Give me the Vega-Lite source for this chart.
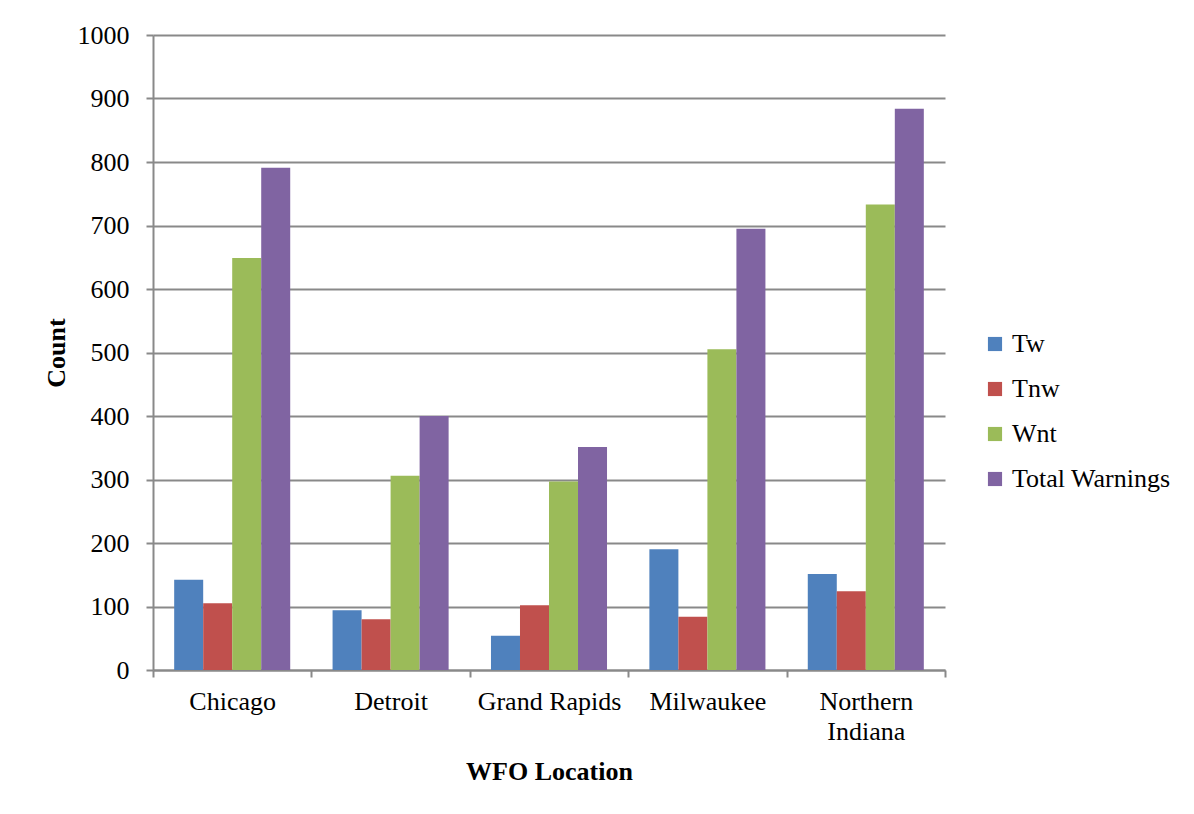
{
  "$schema": "https://vega.github.io/schema/vega-lite/v6.json",
  "width": 792,
  "height": 635,
  "autosize": {"type": "none"},
  "padding": {"left": 153, "top": 35, "right": 249, "bottom": 144},
  "background": "white",
  "data": {
    "values": [
      {"office": "Chicago", "series": "Tw", "count": 142},
      {"office": "Chicago", "series": "Tnw", "count": 105},
      {"office": "Chicago", "series": "Wnt", "count": 649},
      {"office": "Chicago", "series": "Total Warnings", "count": 791},
      {"office": "Detroit", "series": "Tw", "count": 94},
      {"office": "Detroit", "series": "Tnw", "count": 80},
      {"office": "Detroit", "series": "Wnt", "count": 306},
      {"office": "Detroit", "series": "Total Warnings", "count": 400},
      {"office": "Grand Rapids", "series": "Tw", "count": 54},
      {"office": "Grand Rapids", "series": "Tnw", "count": 102},
      {"office": "Grand Rapids", "series": "Wnt", "count": 297},
      {"office": "Grand Rapids", "series": "Total Warnings", "count": 351},
      {"office": "Milwaukee", "series": "Tw", "count": 190},
      {"office": "Milwaukee", "series": "Tnw", "count": 84},
      {"office": "Milwaukee", "series": "Wnt", "count": 505},
      {"office": "Milwaukee", "series": "Total Warnings", "count": 695},
      {"office": "Northern Indiana", "series": "Tw", "count": 151},
      {"office": "Northern Indiana", "series": "Tnw", "count": 124},
      {"office": "Northern Indiana", "series": "Wnt", "count": 733},
      {"office": "Northern Indiana", "series": "Total Warnings", "count": 884}
    ]
  },
  "mark": {"type": "bar"},
  "encoding": {
    "x": {
      "field": "office",
      "type": "nominal",
      "sort": null,
      "scale": {"paddingInner": 0, "paddingOuter": 0},
      "axis": {
        "title": "WFO Location",
        "labelAngle": 0,
        "tickBand": "extent",
        "labelExpr": "datum.value == 'Northern Indiana' ? ['Northern', 'Indiana'] : datum.value",
        "labelPadding": 11,
        "labelLineHeight": 30,
        "titlePadding": 14
      }
    },
    "xOffset": {
      "field": "series",
      "type": "nominal",
      "sort": ["Tw", "Tnw", "Wnt", "Total Warnings"],
      "scale": {"paddingInner": 0, "paddingOuter": 0.73}
    },
    "y": {
      "field": "count",
      "type": "quantitative",
      "scale": {"domain": [0, 1000], "nice": false},
      "axis": {
        "title": "Count",
        "format": "d",
        "values": [0, 100, 200, 300, 400, 500, 600, 700, 800, 900, 1000],
        "labelPadding": 17,
        "titlePadding": 8
      }
    },
    "color": {
      "field": "series",
      "type": "nominal",
      "sort": ["Tw", "Tnw", "Wnt", "Total Warnings"],
      "scale": {
        "domain": ["Tw", "Tnw", "Wnt", "Total Warnings"],
        "range": ["#4f81bd", "#c0504d", "#9bbb59", "#8064a2"]
      },
      "legend": {
        "title": null,
        "orient": "none",
        "legendX": 829,
        "legendY": 296,
        "symbolType": "square",
        "symbolSize": 200,
        "symbolStrokeWidth": 0,
        "rowPadding": 19,
        "labelOffset": 4
      }
    }
  },
  "config": {
    "font": "Liberation Serif",
    "view": {"stroke": null},
    "axis": {
      "labelFont": "Liberation Serif",
      "labelFontSize": 26,
      "labelColor": "#000000",
      "titleFont": "Liberation Serif",
      "titleFontSize": 26,
      "titleFontWeight": "bold",
      "titleColor": "#000000",
      "domainColor": "#898989",
      "domainWidth": 2,
      "tickColor": "#898989",
      "tickWidth": 2,
      "tickSize": 7,
      "gridColor": "#898989",
      "gridWidth": 2
    },
    "axisX": {"grid": false},
    "axisY": {"grid": true, "domain": true},
    "legend": {
      "labelFont": "Liberation Serif",
      "labelFontSize": 26,
      "labelColor": "#000000"
    }
  }
}
